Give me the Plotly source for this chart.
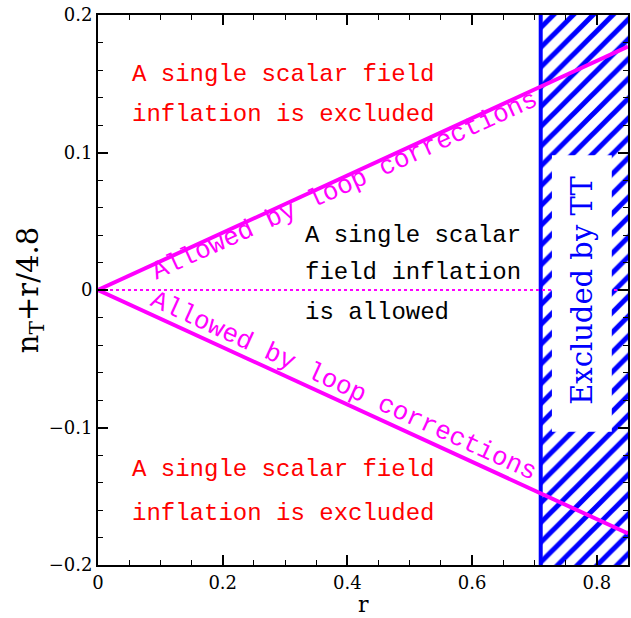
import plotly.graph_objects as go

# data
r_max = 0.85
r_tt = 0.71
slope_inv = 4.8
line_r = [0.0, r_max]
upper_y = [0.0, r_max / slope_inv]
lower_y = [0.0, -r_max / slope_inv]
zero_r = [0.0, r_max]
zero_y = [0.0, 0.0]
excl_r = [r_tt, r_max, r_max, r_tt, r_tt]
excl_y = [-0.2, -0.2, 0.2, 0.2, -0.2]
xticks = [0, 0.2, 0.4, 0.6, 0.8]
xticklabels = ["0", "0.2", "0.4", "0.6", "0.8"]
yticks = [-0.2, -0.1, 0, 0.1, 0.2]
yticklabels = ["\u22120.2", "\u22120.1", "0", "0.1", "0.2"]

MAG = "#ff00ff"
BLUE = "#0000ff"
TFONT = "Liberation Mono"
SFONT = "DejaVu Serif"

fig = go.Figure()
fig.add_trace(go.Scatter(x=excl_r, y=excl_y, fill="toself", mode="lines",
                         line=dict(width=0, color=BLUE), fillcolor="white",
                         fillpattern=dict(shape="/", fgcolor=BLUE, bgcolor="white",
                                          fgopacity=1, size=14, solidity=0.36),
                         hoverinfo="skip", showlegend=False))
fig.add_trace(go.Scatter(x=[r_tt, r_tt], y=[-0.2, 0.2], mode="lines",
                         line=dict(color=BLUE, width=4), showlegend=False))
fig.add_trace(go.Scatter(x=zero_r, y=zero_y, mode="lines",
                         line=dict(color=MAG, width=2, dash="dot"), showlegend=False))
fig.add_trace(go.Scatter(x=line_r, y=upper_y, mode="lines",
                         line=dict(color=MAG, width=4), showlegend=False))
fig.add_trace(go.Scatter(x=line_r, y=lower_y, mode="lines",
                         line=dict(color=MAG, width=4), showlegend=False))

fig.add_shape(type="rect", x0=0.728, x1=0.824, y0=-0.103, y1=0.098,
              fillcolor="white", line=dict(width=0), layer="above")

text_lines = [
    (0.051, 0.1564, "A single scalar field", "red"),
    (0.051, 0.1273, "inflation is excluded", "red"),
    (0.051, -0.1309, "A single scalar field", "red"),
    (0.051, -0.1622, "inflation is excluded", "red"),
    (0.328, 0.040, "A single scalar", "black"),
    (0.328, 0.0124, "field inflation", "black"),
    (0.328, -0.0167, "is allowed", "black"),
]
for x, y, t, c in text_lines:
    fig.add_annotation(x=x, y=y, text=t, showarrow=False,
                       xanchor="left", yanchor="middle",
                       font=dict(family=TFONT, size=24, color=c))

fig.add_annotation(x=0.395, y=0.076, text="Allowed by loop corrections", showarrow=False,
                   textangle=-24.6, font=dict(family=TFONT, size=26, color=MAG))
fig.add_annotation(x=0.393, y=-0.07, text="Allowed by loop corrections", showarrow=False,
                   textangle=24.6, font=dict(family=TFONT, size=26, color=MAG))
fig.add_annotation(x=0.776, y=0.0, text="Excluded by TT", showarrow=False,
                   textangle=-90, font=dict(family=SFONT, size=29, color=BLUE))

# axis titles
fig.add_annotation(xref="paper", yref="paper", x=-0.128, y=0.5, text="n<sub>T</sub>+r/4.8",
                   showarrow=False, textangle=-90, xanchor="center", yanchor="middle",
                   font=dict(family=SFONT, size=29, color="black"))
fig.add_annotation(xref="paper", yref="paper", x=0.5, y=-0.071, text="r",
                   showarrow=False, xanchor="center", yanchor="middle", borderpad=0,
                   font=dict(family=SFONT, size=22, color="black"))

axis_common = dict(showgrid=False, zeroline=False, showline=True, linecolor="black",
                   linewidth=2, mirror="allticks", ticks="inside", ticklen=10,
                   tickwidth=1.5, tickcolor="black", automargin=False,
                   tickfont=dict(family=SFONT, size=18, color="black"))
fig.update_xaxes(range=[0, r_max], tickvals=xticks, ticktext=xticklabels,
                 minor=dict(ticks="inside", ticklen=5, dtick=0.05, tickcolor="black", tickwidth=1.2),
                 **axis_common)
fig.update_yaxes(range=[-0.2, 0.2], tickvals=yticks, ticktext=yticklabels,
                 minor=dict(ticks="inside", ticklen=5, dtick=0.02, tickcolor="black", tickwidth=1.2),
                 **axis_common)
fig.update_layout(width=631, height=618, margin=dict(l=98, r=3, t=15, b=53),
                  plot_bgcolor="white", paper_bgcolor="white", showlegend=False)
fig.write_html("out.html", config={"displayModeBar": False},
               post_script="document.body.style.margin='0';")
